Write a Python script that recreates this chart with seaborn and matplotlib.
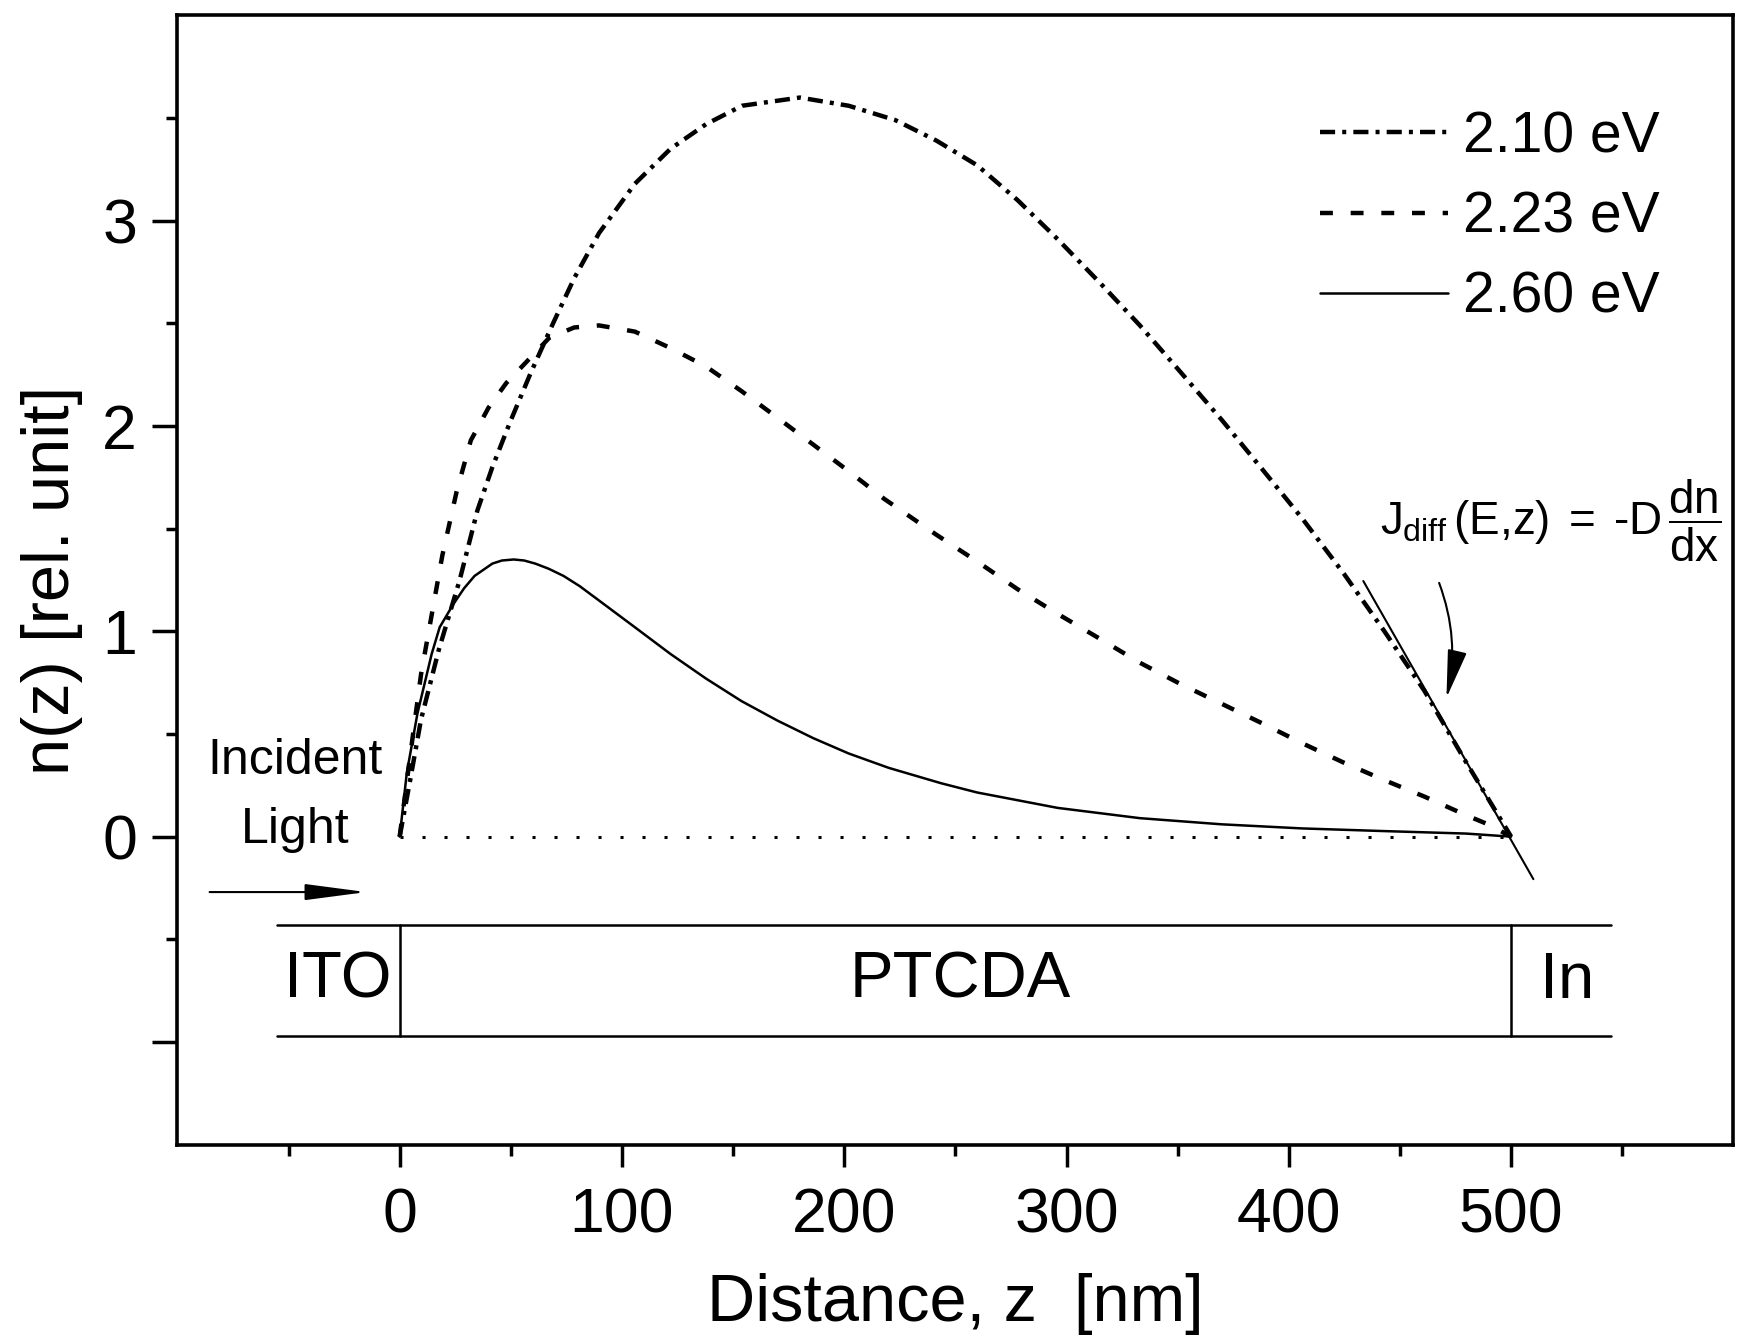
import matplotlib
matplotlib.use('Agg')
import matplotlib.pyplot as plt
import numpy as np
import pandas as pd
import seaborn as sns
from matplotlib.ticker import FixedLocator

# ---------------- data ----------------
z_210 = [0, 4.8, 9.6, 17.6, 27, 35, 41.7, 49.7, 59, 69, 78.5, 89.7, 105.8, 121.8,
         137.8, 154, 180, 202, 223, 241.5, 259.8, 278, 296, 314.8, 333, 351.5,
         369.8, 388, 406, 424.8, 443, 461, 479.6, 500]
n_210 = [0, 0.28, 0.57, 0.91, 1.25, 1.59, 1.80, 2.02, 2.26, 2.50, 2.72, 2.94, 3.18,
         3.35, 3.47, 3.56, 3.60, 3.56, 3.49, 3.39, 3.27, 3.10, 2.91, 2.70, 2.49,
         2.26, 2.03, 1.79, 1.55, 1.28, 1.00, 0.71, 0.365, 0.0]

z_223 = [0, 4.8, 9.6, 14.4, 19.2, 25.6, 32, 40, 48, 57.7, 67.3, 78.5, 89.7, 105.8,
         121.8, 137.8, 153.8, 170, 186, 202, 218, 241.5, 259.8, 278, 296, 314.8,
         333, 351.5, 369.8, 388, 406, 424.8, 443, 461, 479.6, 489.6, 500]
n_223 = [0, 0.40, 0.79, 1.08, 1.37, 1.68, 1.93, 2.09, 2.21, 2.32, 2.43, 2.48, 2.49,
         2.46, 2.38, 2.29, 2.17, 2.04, 1.91, 1.78, 1.645, 1.47, 1.34, 1.205, 1.085,
         0.965, 0.847, 0.742, 0.647, 0.552, 0.455, 0.36, 0.275, 0.195, 0.105, 0.06, 0.0]

z_260 = [0, 3.2, 8, 14.4, 18, 24, 29, 33.7, 41.7, 46, 51.3, 56, 61, 67, 73.7, 81,
         89.7, 105.8, 121.8, 137.8, 153.8, 170, 186, 202, 220, 243.6, 259.8, 296,
         333, 369.8, 406, 443, 479.6, 500]
n_260 = [0, 0.31, 0.60, 0.89, 1.02, 1.13, 1.21, 1.27, 1.33, 1.345, 1.35, 1.345, 1.33,
         1.305, 1.27, 1.22, 1.15, 1.02, 0.89, 0.77, 0.66, 0.565, 0.48, 0.405, 0.335,
         0.26, 0.215, 0.14, 0.09, 0.06, 0.04, 0.027, 0.015, 0.0]

labels = ['2.10 eV', '2.23 eV', '2.60 eV']

baseline_z = [0, 500]
baseline_n = [0, 0]

tangent_z = [433.5, 510]
tangent_n = [1.245, -0.207]

layer_left, layer_ito, layer_in, layer_right = -55, 0, 500, 545
layer_top, layer_bottom = -0.432, -0.971
layer_names = ['ITO', 'PTCDA', 'In']
layer_centers = [-28, 252, 525]

xticks_major = [0, 100, 200, 300, 400, 500]
xticks_minor = [-50, 50, 150, 250, 350, 450, 550]
yticks_major = [-1, 0, 1, 2, 3]
ytick_labels = ['', '0', '1', '2', '3']
yticks_minor = [-0.5, 0.5, 1.5, 2.5, 3.5]

# ---------------- style ----------------
sns.set_style('white')
plt.rcParams['font.family'] = ['Liberation Sans', 'DejaVu Sans']
plt.rcParams['mathtext.fontset'] = 'custom'
plt.rcParams['mathtext.rm'] = 'Liberation Sans'
plt.rcParams['mathtext.it'] = 'Liberation Sans'
plt.rcParams['mathtext.sf'] = 'Liberation Sans'
plt.rcParams['mathtext.bf'] = 'Liberation Sans:bold'
plt.rcParams['text.color'] = 'black'
plt.rcParams['axes.labelcolor'] = 'black'
plt.rcParams['xtick.color'] = 'black'
plt.rcParams['ytick.color'] = 'black'

fig = plt.figure(figsize=(17.39, 13.42), dpi=100)
ax = fig.add_axes([0.1020, 0.1471, 0.8948, 0.8414])

df210 = pd.DataFrame({'z': z_210, 'n': n_210})
df223 = pd.DataFrame({'z': z_223, 'n': n_223})
df260 = pd.DataFrame({'z': z_260, 'n': n_260})

sns.lineplot(data=df210, x='z', y='n', ax=ax, color='black', linewidth=3.2,
             linestyle=(0, (3.4, 1.6, 0.9, 1.6)), errorbar=None, sort=False,
             label=labels[0])
sns.lineplot(data=df223, x='z', y='n', ax=ax, color='black', linewidth=3.2,
             linestyle=(0, (2.9, 4.0)), errorbar=None, sort=False,
             label=labels[1])
sns.lineplot(data=df260, x='z', y='n', ax=ax, color='black', linewidth=1.8,
             linestyle='-', errorbar=None, sort=False, label=labels[2])

# dotted zero line
ax.plot(baseline_z, baseline_n, color='black', lw=2.2, linestyle=(0, (1, 6.2)))
# tangent line
ax.plot(tangent_z, tangent_n, color='black', lw=1.5)

# layer diagram
ax.plot([layer_left, layer_right], [layer_top, layer_top], color='black', lw=1.8)
ax.plot([layer_left, layer_right], [layer_bottom, layer_bottom], color='black', lw=1.8)
ax.plot([layer_ito, layer_ito], [layer_top, layer_bottom], color='black', lw=1.8)
ax.plot([layer_in, layer_in], [layer_top, layer_bottom], color='black', lw=1.8)
for name, c in zip(layer_names, layer_centers):
    ax.text(c, (layer_top + layer_bottom) / 2, name, ha='center', va='center',
            fontsize=47)

# incident light
ax.text(-47, 0.37, 'Incident', ha='center', va='center', fontsize=36)
ax.text(-47, 0.03, 'Light', ha='center', va='center', fontsize=36)
ax.annotate('', xy=(-15, -0.27), xytext=(-85.5, -0.27),
            arrowprops=dict(arrowstyle='-|>,head_length=1.9,head_width=0.25',
                            color='black', lw=1.5, shrinkA=0, shrinkB=0,
                            mutation_scale=20))

# J_diff annotation
ax.text(441, 1.54, r'$J_{diff}\,(E{,}z)\;=\;$-$D\,\dfrac{dn}{dx}$', ha='left',
        va='center', fontsize=33)
ax.annotate('', xy=(470.9, 0.676), xytext=(467.6, 1.236),
            arrowprops=dict(arrowstyle='-|>,head_length=1.5,head_width=0.3',
                            color='black', lw=1.5, shrinkA=0, shrinkB=0,
                            mutation_scale=20,
                            connectionstyle='arc3,rad=-0.15'))

# axes
ax.set_xlim(-100, 600)
ax.set_ylim(-1.5, 4)
ax.xaxis.set_major_locator(FixedLocator(xticks_major))
ax.xaxis.set_minor_locator(FixedLocator(xticks_minor))
ax.yaxis.set_major_locator(FixedLocator(yticks_major))
ax.yaxis.set_minor_locator(FixedLocator(yticks_minor))
ax.set_yticklabels(ytick_labels)

for s in ax.spines.values():
    s.set_linewidth(2.6)
    s.set_color('black')
    s.set_visible(True)

ax.tick_params(axis='both', which='both', direction='out', color='black',
               width=2.5, labelsize=45, labelcolor='black',
               left=True, bottom=True, top=False, right=False)
ax.tick_params(axis='y', which='major', length=18, pad=11)
ax.tick_params(axis='y', which='minor', length=8)
ax.tick_params(axis='x', which='major', length=16, pad=14)
ax.tick_params(axis='x', which='minor', length=8)

ax.set_xlabel('Distance, z  [nm]', fontsize=48, labelpad=20, color='black')
ax.set_ylabel('n(z) [rel. unit]', fontsize=48, labelpad=14, color='black')

handles = ax.get_lines()[:3]
ax.legend(handles, labels, loc='upper left', bbox_to_anchor=(0.7343, 0.916),
          frameon=False, fontsize=41, handlelength=2.25, handletextpad=0.26,
          labelspacing=0.46, borderpad=0, borderaxespad=0)

fig.savefig('out.png', dpi=100)
